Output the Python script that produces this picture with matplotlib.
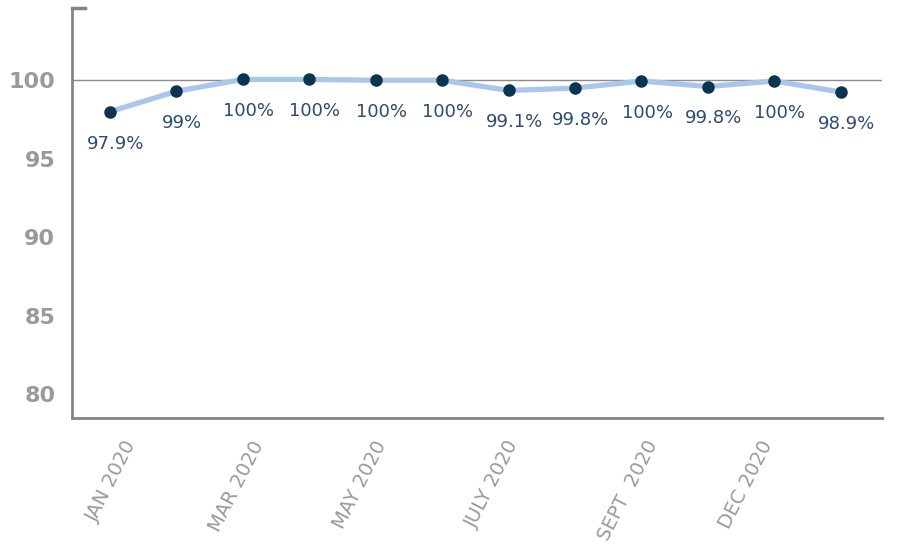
import numpy as np
import matplotlib
matplotlib.use('Agg')
import matplotlib.pyplot as plt

# Monthly readings for 2020 (point heights as drawn) and their printed labels
months = ['JAN', 'FEB', 'MAR', 'APR', 'MAY', 'JUN', 'JUL', 'AUG', 'SEP', 'OCT', 'NOV', 'DEC']
values = [98.0, 99.3, 100.05, 100.05, 100.0, 100.0, 99.35, 99.5, 99.95, 99.6, 99.95, 99.25]
point_labels = ['97.9%', '99%', '100%', '100%', '100%', '100%', '99.1%', '99.8%', '100%', '99.8%', '100%', '98.9%']
tick_labels = ['JAN 2020', 'MAR 2020', 'MAY 2020', 'JULY 2020', 'SEPT  2020', 'DEC 2020']
y_ticks = [80, 85, 90, 95, 100]

line_color = '#a9c7e8'
dot_color = '#0b3352'
label_color = '#2d4a70'
axis_gray = '#858585'
tick_gray = '#9a9a9a'

fig = plt.figure(figsize=(8.97, 5.46), dpi=100)
ax = fig.add_axes([0.0803, 0.2344, 0.903, 0.751])

x = np.arange(len(values))

# Reference line at 100
ax.axhline(100, color='#8c8c8c', lw=1.0, zorder=1)

# Main line and dots
ax.plot(x, values, color=line_color, lw=3.8, zorder=2, solid_capstyle='round')
ax.plot(x, values, 'o', color=dot_color, markersize=8, zorder=3)

# Point labels under each dot
for xi, yi, lab in zip(x, values, point_labels):
    ax.annotate(lab, (xi, yi), xytext=(4, -23), textcoords='offset points',
                ha='center', va='center', fontsize=13, color=label_color)

ax.set_xlim(-0.57, 11.62)
ax.set_ylim(78.5, 104.6)

# Y axis
ax.set_yticks(y_ticks)
ax.set_yticklabels([str(t) for t in y_ticks], fontsize=16, fontweight='bold', color=tick_gray)
ax.tick_params(axis='y', length=0, pad=12)

# X axis: every other month, rotated
tick_pos = [0.2, 2.12, 3.97, 5.95, 8.05, 9.78]
ax.set_xticks(tick_pos)
ax.set_xticklabels(tick_labels, rotation=63, ha='right', rotation_mode='anchor',
                   fontsize=14, color=tick_gray)
ax.tick_params(axis='x', length=0, pad=14)

# Spines
for s in ['top', 'right']:
    ax.spines[s].set_visible(False)
for s in ['left', 'bottom']:
    ax.spines[s].set_color(axis_gray)
    ax.spines[s].set_linewidth(2)

# small cap at top of y axis
ax.plot([-0.57, -0.38], [104.6, 104.6], color=axis_gray, lw=2.5, clip_on=False, zorder=4)

fig.savefig('out.png', dpi=100)
